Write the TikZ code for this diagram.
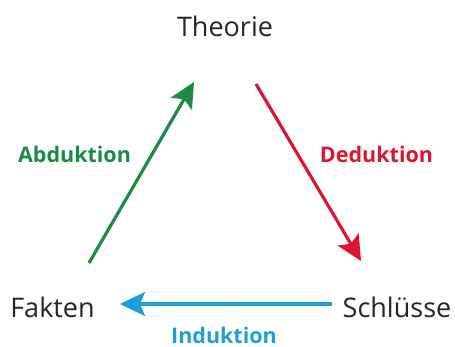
\documentclass[tikz,border=0pt]{standalone}
\usepackage{fontspec}
\setmainfont{Open Sans}
\usetikzlibrary{arrows.meta}
\definecolor{abdgreen}{RGB}{28,140,68}
\definecolor{dedred}{RGB}{218,22,48}
\definecolor{indblue}{RGB}{32,158,216}
\begin{document}
\begin{tikzpicture}[x=1pt,y=-1pt,
  every node/.style={inner sep=0pt,anchor=base},
  term/.style={font=\fontsize{27}{30}\selectfont,text=black!85},
  lbl/.style={font=\fontsize{21.5}{24}\selectfont\bfseries},
  pfeil/.style={line width=3.2pt,-{Stealth[length=25pt,width=24pt,inset=5pt]}}]
\useasboundingbox (0,0) rectangle (455,347);
\node[term] (theorie) at (225,37) {Theorie};
\node[term] (fakten) at (52.5,317) {Fakten};
\node[term] (schluesse) at (397,317) {Schlüsse};
\node[lbl,text=abdgreen] (abd) at (74.5,163) {Abduktion};
\node[lbl,text=dedred] (ded) at (376.5,163) {Deduktion};
\node[lbl,text=indblue] (ind) at (224,343) {Induktion};
\coordinate (a1) at (89,263);
\coordinate (a2) at (194,82);
\coordinate (d1) at (256,84);
\coordinate (d2) at (361,261);
\coordinate (i1) at (332,304);
\coordinate (i2) at (120,304);
\draw[pfeil,abdgreen] (a1) -- (a2);
\draw[pfeil,dedred] (d1) -- (d2);
\draw[pfeil,indblue] (i1) -- (i2);
\end{tikzpicture}
\end{document}
